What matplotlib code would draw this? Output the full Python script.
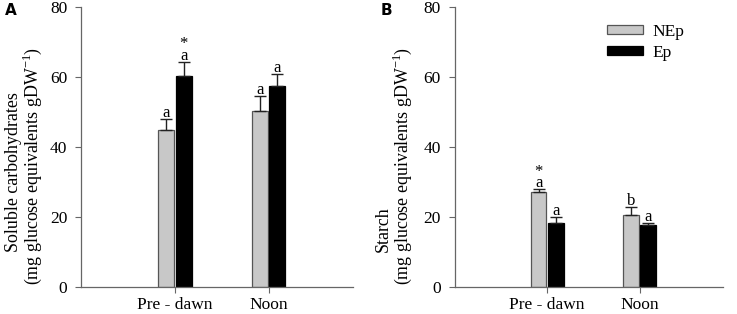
import numpy as np
import matplotlib
matplotlib.use('Agg')
import matplotlib.pyplot as plt

plt.rcParams['font.family'] = ['Liberation Serif', 'DejaVu Serif']
plt.rcParams['mathtext.fontset'] = 'custom'
plt.rcParams['mathtext.rm'] = 'Liberation Serif'

# data
categories = ['Pre - dawn', 'Noon']
groups = ['NEp', 'Ep']

carb_nep = [44.8, 50.3]
carb_nep_err = [3.1, 4.2]
carb_ep = [60.3, 57.4]
carb_ep_err = [4.0, 3.5]
carb_nep_lbl = ['a', 'a']
carb_ep_lbl = ['*\na', 'a']

starch_nep = [27.0, 20.7]
starch_nep_err = [0.9, 2.2]
starch_ep = [18.2, 17.7]
starch_ep_err = [1.7, 0.5]
starch_nep_lbl = ['*\na', 'b']
starch_ep_lbl = ['a', 'a']

unit_label = '(mg glucose equivalents gDW$^{-1}$)'

gray = '#c8c8c8'
edge = '#555555'
axcol = '#666666'


def panel(ax, nep, nep_err, ep, ep_err, nep_lbl, ep_lbl):
  x = np.arange(1, len(categories) + 1)
  w = 0.17
  g = 0.008
  xn = x - w / 2 - g
  xe = x + w / 2 + g
  ax.bar(xn, nep, w, color=gray, edgecolor=edge, linewidth=0.9, label=groups[0], zorder=2)
  ax.bar(xe, ep, w, color='black', edgecolor='black', linewidth=0.9, label=groups[1], zorder=2)
  ax.errorbar(xn, nep, yerr=[np.zeros(len(nep)), nep_err], fmt='none', ecolor='#222222',
              elinewidth=1, capsize=4, capthick=1, zorder=3)
  ax.errorbar(xe, ep, yerr=[np.zeros(len(ep)), ep_err], fmt='none', ecolor='#222222',
              elinewidth=1, capsize=4, capthick=1, zorder=3)
  for xs, vals, errs, lbls in [(xn, nep, nep_err, nep_lbl), (xe, ep, ep_err, ep_lbl)]:
    for xi, v, e, l in zip(xs, vals, errs, lbls):
      ax.text(xi, v + e - 0.6, l, ha='center', va='bottom', fontsize=12, linespacing=0.65)
  ax.set_xlim(0, 2.9)
  ax.set_ylim(0, 80)
  ax.set_yticks([0, 20, 40, 60, 80])
  ax.set_xticks(x)
  ax.set_xticklabels(categories)
  ax.spines['top'].set_visible(False)
  ax.spines['right'].set_visible(False)
  for s in ['left', 'bottom']:
    ax.spines[s].set_color(axcol)
    ax.spines[s].set_linewidth(0.9)
  ax.tick_params(axis='both', colors=axcol, labelcolor='black', labelsize=12.5,
                 direction='out', length=4, width=0.8)
  ax.tick_params(axis='x', pad=3)
  ax.tick_params(axis='y', pad=6)


def ylabel(fig, x1, x2, line1):
  # two separate lines, each starting from its own baseline position
  fig.text(x1, 0.197, line1, rotation=90, rotation_mode='anchor',
           ha='left', va='center', fontsize=12.9)
  fig.text(x2, 0.092, unit_label, rotation=90, rotation_mode='anchor',
           ha='left', va='center', fontsize=12.9)


fig = plt.figure(figsize=(7.37, 3.14), dpi=100)
ax1 = fig.add_axes([0.110, 0.086, 0.369, 0.892])
ax2 = fig.add_axes([0.617, 0.086, 0.364, 0.892])

panel(ax1, carb_nep, carb_nep_err, carb_ep, carb_ep_err, carb_nep_lbl, carb_ep_lbl)
panel(ax2, starch_nep, starch_nep_err, starch_ep, starch_ep_err, starch_nep_lbl, starch_ep_lbl)

ylabel(fig, 13 / 737, 32 / 737, 'Soluble carbohydrates')
ylabel(fig, 383 / 737, 402 / 737, 'Starch')

leg = ax2.legend(loc='upper left', bbox_to_anchor=(0.567, 0.94), frameon=False,
                 fontsize=12.5, handlelength=2.1, handleheight=0.45, borderpad=0,
                 borderaxespad=0, handletextpad=0.5, labelspacing=0.3)

fig.text(0.007, 0.965, 'A', fontsize=11, fontweight='bold', family='DejaVu Sans', va='center')
fig.text(0.516, 0.965, 'B', fontsize=11, fontweight='bold', family='DejaVu Sans', va='center')

fig.savefig('out.png', dpi=100)
